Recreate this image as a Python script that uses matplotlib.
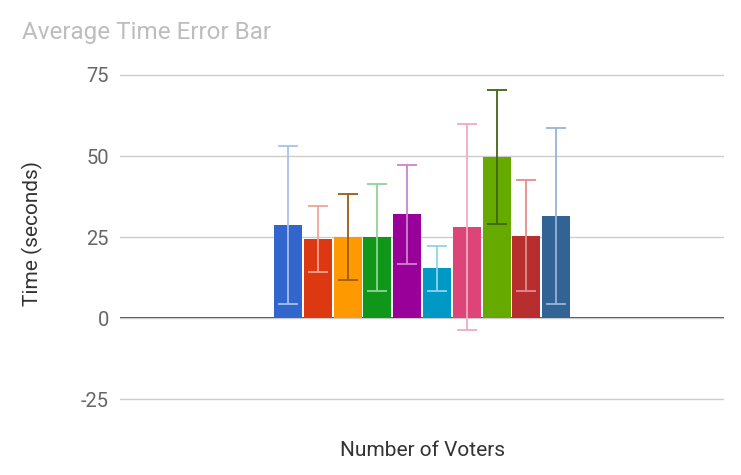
import matplotlib
matplotlib.use("Agg")
import matplotlib.pyplot as plt

plt.rcParams['font.family'] = ['Roboto', 'DejaVu Sans']
plt.rcParams['axes.unicode_minus'] = False

# one group ("Number of Voters") with ten series, mean +/- error
series = ['1', '2', '3', '4', '5', '6', '7', '8', '9', '10']
means = [28.7, 24.5, 25.0, 25.0, 32.0, 15.3, 28.2, 49.7, 25.4, 31.4]
errors = [24.3, 10.2, 13.3, 16.5, 15.2, 7.0, 31.8, 20.6, 17.1, 27.1]
bar_colors = ['#3366cc', '#dc3912', '#ff9900', '#109618', '#990099',
              '#0099c6', '#dd4477', '#66aa00', '#b82e2e', '#316395']
err_colors = ['#a7c0ec', '#f1a493', '#9c5a12', '#8fd49a', '#cc84cc',
              '#8fd3ea', '#f2a9c2', '#3d6616', '#e08c8c', '#98b4d6']
yticks = [-25, 0, 25, 50, 75]

W, H = 741, 475
fig = plt.figure(figsize=(W / 100, H / 100), dpi=100)
ax = fig.add_axes([120 / W, 1 - 402 / H, 604 / W, 328 / H])

step = 29.8 / 604
width = 28 / 604
n = len(series)
for i in range(n):
    x = (i - (n - 1) / 2) * step
    ax.bar(x, means[i], width=width, color=bar_colors[i], zorder=2)
    ax.errorbar(x, means[i], yerr=errors[i], color=err_colors[i],
                capsize=7.5, elinewidth=1.3, capthick=1.3, zorder=3)

ax.set_xlim(-0.5, 0.5)
ax.set_ylim(-25.9, 75.3)
ax.set_yticks(yticks)
ax.set_xticks([])
ax.grid(axis='y', color='#cccccc', linewidth=1, zorder=0)
ax.axhline(0, color='#333333', linewidth=1.3, zorder=1)
for s in ax.spines.values():
    s.set_visible(False)
ax.tick_params(axis='y', length=0, pad=8, labelsize=14.5, labelcolor='#666666')

fig.text(22 / W, 1 - 21 / H, 'Average Time Error Bar', fontsize=17.5,
         color='#bdbdbd', ha='left', va='top')
fig.text(422 / W, 1 - 450 / H, 'Number of Voters', fontsize=15,
         color='#333333', ha='center', va='center')
fig.text(32 / W, 1 - 233 / H, 'Time (seconds)', fontsize=15,
         color='#333333', ha='center', va='center', rotation=90)

fig.savefig('out.png', dpi=100)
